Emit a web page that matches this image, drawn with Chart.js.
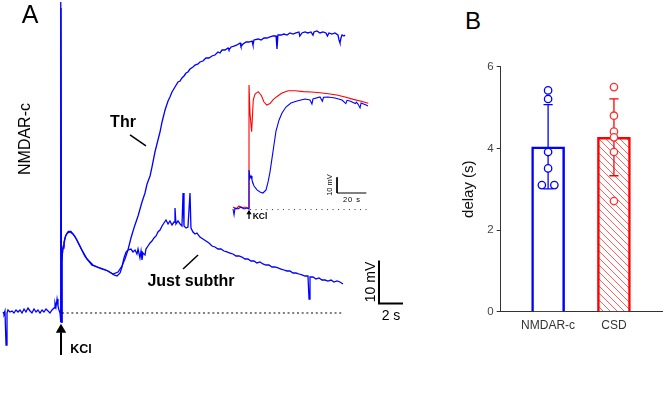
<!DOCTYPE html>
<html><head><meta charset="utf-8">
<script src="https://cdn.jsdelivr.net/npm/chart.js@4.4.1/dist/chart.umd.min.js"></script>
<style>
html,body{margin:0;padding:0;background:#fff;}
#wrap{position:relative;width:669px;height:401px;overflow:hidden;background:#fff;font-family:"Liberation Sans",Arial,sans-serif;}
canvas{position:absolute;}
.t{position:absolute;white-space:nowrap;line-height:1;transform:translate(-50%,-50%);color:#000;}
.r{transform:translate(-50%,-50%) rotate(-90deg);}
.b{font-weight:bold;}
</style></head><body>
<div id="wrap">
<canvas id="cMain" width="430" height="401" style="left:0;top:0"></canvas>
<canvas id="cInset" width="146" height="145" style="left:228px;top:80px"></canvas>
<canvas id="cBar" width="229" height="300" style="left:440px;top:50px"></canvas>
<div class="t" style="left:30px;top:14px;font-size:25px">A</div>
<div class="t" style="left:473px;top:21px;font-size:24px">B</div>
<div class="t r" style="left:25px;top:139px;font-size:16px">NMDAR-c</div>
<div class="t b" style="left:123px;top:122px;font-size:16px">Thr</div>
<div class="t b" style="left:191px;top:281px;font-size:16px">Just subthr</div>
<div class="t b" style="left:81px;top:349px;font-size:12.5px">KCl</div>
<div class="t r" style="left:370px;top:282px;font-size:14px">10 mV</div>
<div class="t" style="left:391px;top:315px;font-size:14px">2 s</div>
<div class="t r" style="left:330px;top:185px;font-size:7.5px">10 mV</div>
<div class="t" style="left:352px;top:200px;font-size:7.5px;letter-spacing:1px">20 s</div>
<div class="t b" style="left:260px;top:216px;font-size:8.5px">KCl</div>
</div>
<script>
// ---------- Panel A: main traces (time in s, relative to KCl; voltage in mV) ----------
const thrTrace = [
[-4.83,0.23],[-4.75,-0.23],[-4.67,0.47],[-4.58,-7.44],[-4.5,0],[-4.42,0.7],[-4.25,0.23],[-4.08,0.47],[-3.92,0],[-3.75,0.7],[-3.58,0.23],[-3.42,0.7],[-3.25,0],[-3.08,0.93],[-2.92,0.23],[-2.75,1.16],[-2.58,0.47],[-2.42,0],[-2.25,0.93],[-2.08,0.23],[-1.92,0.7],[-1.75,0],[-1.58,0.7],[-1.42,0.23],[-1.25,0.93],[-1.08,0.47],[-0.92,0],[-0.75,0.7],[-0.58,1.16],[-0.5,2.33],[-0.42,1.4],[-0.33,3.26],[-0.25,1.63],[-0.17,0.7],[-0.08,0],
[-0.04,-2.09],[0,72.3],[0.04,-2.09],
[0.08,11.86],[0.13,14.65],[0.19,15.58],[0.25,16.51],[0.33,17.44],[0.46,18.37],[0.61,18.95],[0.83,18.95],[1.17,17.79],[1.58,15.47],[2.0,13.14],[2.56,11.16],[3.39,10.23],[3.92,9.77],[4.33,9.07],[4.75,9.53],[5.08,10.93],[5.33,12.56],[5.58,14.65],[5.83,17.44],[6.08,19.77],[6.42,22.56],[6.75,25.81],[7.0,27.91],[7.17,30.0],[7.42,31.86],[7.58,33.95],[7.83,37.44],[8.08,40.23],[8.25,42.09],[8.42,44.42],[8.67,47.21],[8.92,49.3],[9.08,50.23],[9.25,51.4],[9.5,52.56],[9.75,53.72],[9.92,53.95],[10.08,54.65],[10.25,55.12],[10.42,55.81],[10.58,56.05],[10.75,56.74],[11.0,57.21],[11.17,57.67],[11.42,57.91],[11.58,58.37],[11.83,58.6],[12.08,59.3],[12.33,59.3],[12.58,59.77],[12.83,60.0],[13.08,60.7],[13.25,60.47],[13.42,61.16],[13.67,61.16],[13.92,61.63],[14.0,61.2],[14.17,61.86],[14.42,62.09],[14.67,62.33],[14.92,62.79],[15.0,62.0],[15.17,62.56],[15.42,63.02],[15.67,63.02],[15.92,63.26],[16.0,62.3],[16.08,63.49],[16.42,63.72],[16.67,63.49],[16.92,63.95],[17.17,63.95],[17.42,64.19],[17.67,64.42],[17.92,64.42],[18.0,61.4],[18.08,64.65],[18.33,64.65],[18.58,64.88],[18.83,64.65],[19.08,65.12],[19.33,64.88],[19.58,65.12],[19.83,65.35],[19.9,64.4],[20.08,65.12],[20.33,65.35],[20.58,65.12],[20.83,65.35],[21.0,64.6],[21.08,65.35],[21.33,65.58],[21.58,65.12],[21.83,65.35],[22.08,65.12],[22.2,64.4],[22.33,65.12],[22.58,64.88],[22.83,65.12],[23.08,64.65],[23.17,63.49],[23.25,62.79],[23.33,63.95],[23.42,64.65],[23.58,64.42],[23.67,64.65]
];
const subthrTrace = [
[-0.04,-2.09],[0,70.93],[0.04,-2.09],[0.08,12.79],[0.17,15.12],[0.25,16.05],[0.38,17.91],[0.54,18.6],[0.75,18.84],[1.0,18.37],[1.33,16.98],[1.75,14.65],[2.17,12.56],[2.67,11.16],[3.25,10.47],[3.75,10.0],[4.17,9.3],[4.42,8.84],[4.67,8.6],[4.92,9.3],[5.08,10.7],[5.25,12.79],[5.42,14.19],[5.58,14.65],[5.83,14.88],[6.0,14.19],[6.17,14.65],[6.33,13.72],[6.42,14.88],[6.58,12.79],[6.67,14.42],[6.75,12.33],[6.83,13.95],[7.0,13.49],[7.08,14.88],[7.25,15.58],[7.42,16.28],[7.58,16.74],[7.75,17.44],[7.92,17.91],[8.08,18.84],[8.25,19.3],[8.42,20.23],[8.58,20.93],[8.75,21.63],[8.92,20.7],[9.08,21.4],[9.25,20.47],[9.42,21.16],[9.5,24.42],[9.58,20.7],[9.75,21.4],[9.92,20.7],[10.08,20.23],[10.17,27.91],[10.25,20.23],[10.42,19.77],[10.58,20.0],[10.75,27.91],[10.83,19.77],[11.0,18.84],[11.17,18.37],[11.33,18.6],[11.58,17.67],[11.83,17.21],[12.08,16.74],[12.33,16.28],[12.58,15.58],[12.83,15.35],[13.08,14.88],[13.33,14.88],[13.58,14.42],[13.83,14.19],[14.08,13.95],[14.33,13.72],[14.58,13.26],[14.83,13.26],[15.08,13.02],[15.33,12.56],[15.58,12.56],[15.83,12.09],[16.08,12.09],[16.33,11.63],[16.58,11.86],[16.83,11.4],[17.08,11.16],[17.33,11.16],[17.58,10.7],[17.83,10.7],[18.08,10.47],[18.33,10.23],[18.58,10.0],[18.83,9.77],[19.08,9.77],[19.33,9.3],[19.58,9.3],[19.83,9.07],[20.08,8.84],[20.33,8.6],[20.58,8.6],[20.67,3.26],[20.75,8.37],[21.0,8.37],[21.25,7.91],[21.5,8.14],[21.75,7.67],[22.0,7.67],[22.25,7.44],[22.5,7.67],[22.75,7.21],[23.0,7.44],[23.25,7.21],[23.5,6.74]
];
const mainBaselineSpan = [0.08, 23.5];      // s, dotted 0 mV line
const mainScaleBar = {t: 26.5, v: 2.2, dt: 2, dv: 10}; // 2 s, 10 mV
const thrPointer = [[5.75,41.4],[7.08,38.84]];
const subthrPointer = [[10.17,10.23],[11.42,13.49]];
const kclArrow = [-9.77,-4.5,-3.9];        // mV: tail, shaft end, head centre

// ---------- Panel A inset (s, mV) ----------
const insetNmdar = [
[-10.9,-0.64],[-10.2,-4.46],[-9.54,0],[-7.5,-0.64],[-5.45,0.64],[-3.41,-0.64],[-1.36,0],[0,-0.64],[0,24.2],[0.68,19.1],[1.36,20.4],[2.04,17.8],[3.41,14.0],[5.45,11.5],[7.5,10.2],[9.54,9.55],[11.6,11.5],[13.0,16.6],[14.3,22.9],[15.7,31.8],[17.0,40.1],[18.4,49.0],[20.5,56.1],[22.5,60.5],[25.2,64.3],[28.6,66.9],[32.7,68.2],[38.2,69.4],[41.6,68.8],[42.9,66.2],[43.6,69.4],[48.4,70.7],[50.0,68.0],[50.8,70.5],[53.9,70.7],[58.6,70.1],[63.4,68.8],[66.0,66.5],[66.8,68.6],[68.8,68.2],[72.5,66.5],[73.2,67.4],[74.3,66.2],[75.7,63.7],[76.4,66.9],[79.8,65.6],[81.1,65.0]
];
const insetCsd = [
[-10.9,0.64],[-8.86,-0.64],[-6.82,1.27],[-4.77,0],[-2.73,0.64],[-0.68,0],[0,0],[0,78.3],[0.7,60],[1.8,48.6],[2.9,68.8],[4.1,72.6],[6.3,74.1],[8.5,71.5],[10.2,67.5],[12.1,65.6],[14.3,66.5],[16.5,69.0],[18.9,70.9],[22.5,73.2],[26.8,74.7],[31.5,74.7],[37.0,74.1],[42.5,73.9],[48.4,73.4],[54.0,72.8],[59.8,72.0],[65.5,70.7],[71.1,69.2],[76.5,68.0],[81.3,66.7]
];
const insetBaselineSpan = [0.7, 80.4];
const insetScaleBar = {t: 60, v: 9.55, dt: 20, dv: 10}; // 20 s, 10 mV
const insetKcl = [-7.0,-2.2,-3.0];

// ---------- Panel B: delay (s) ----------
const categories = ['NMDAR-c','CSD'];
const means = [4.04, 4.27];
const sds = [1.03, 0.94];
const nmdarPts = [5.42,5.21,3.91,3.51,3.10,3.10];
const csdPts = [5.50,4.80,4.41,4.27,3.91,2.71];
const yTicks = [0,2,4,6];

// ---------- helpers ----------
const BLUE = '#0000ff', RED = '#ff0000';
const xy = arr => arr.map(p => ({x:p[0], y:p[1]}));
const base = {responsive:false, animation:false, events:[],
  plugins:{legend:{display:false}, tooltip:{enabled:false}},
  elements:{point:{radius:0}, line:{tension:0}}, layout:{padding:0, autoPadding:false}};
function lineDs(data, color, width, extra){
  return Object.assign({type:'line', data, borderColor:color, borderWidth:width, pointRadius:0, fill:false, spanGaps:false, clip:8}, extra||{});
}

// ---------- main chart ----------
new Chart(document.getElementById('cMain'), {
  type:'line',
  data:{datasets:[
    lineDs([{x:mainBaselineSpan[0],y:0},{x:mainBaselineSpan[1],y:0}], '#000', 1, {borderDash:[2,2.7]}),
    lineDs(xy(subthrTrace), BLUE, 1.3),
    lineDs(xy(thrTrace), BLUE, 1.3),
    lineDs([{x:mainScaleBar.t,y:mainScaleBar.v+mainScaleBar.dv},{x:mainScaleBar.t,y:mainScaleBar.v},{x:mainScaleBar.t+mainScaleBar.dt,y:mainScaleBar.v}], '#000', 2),
    lineDs(xy(thrPointer), '#000', 1.5),
    lineDs(xy(subthrPointer), '#000', 1.5),
    lineDs([{x:0,y:kclArrow[0]},{x:0,y:kclArrow[1]}], '#000', 2),
    lineDs([{x:0,y:kclArrow[2]}], '#000', 0, {showLine:false, pointRadius:6, pointStyle:'triangle', pointBackgroundColor:'#000', pointBorderWidth:0})
  ]},
  options:Object.assign({}, base, {scales:{
    x:{type:'linear', display:false, min:-5.0833, max:30.75},
    y:{type:'linear', display:false, min:-20.465, max:72.79}}})
});

// ---------- inset chart ----------
new Chart(document.getElementById('cInset'), {
  type:'line',
  data:{datasets:[
    lineDs([{x:insetBaselineSpan[0],y:-1},{x:insetBaselineSpan[1],y:-1}], '#333', 1, {borderDash:[1,4.5]}),
    lineDs(xy(insetNmdar), BLUE, 1.1),
    lineDs(xy(insetCsd), RED, 1.1),
    lineDs([{x:insetScaleBar.t,y:insetScaleBar.v+insetScaleBar.dv},{x:insetScaleBar.t,y:insetScaleBar.v},{x:insetScaleBar.t+insetScaleBar.dt,y:insetScaleBar.v}], '#000', 1),
    lineDs([{x:0,y:insetKcl[0]},{x:0,y:insetKcl[1]}], '#000', 1.3),
    lineDs([{x:0,y:insetKcl[2]}], '#000', 0, {showLine:false, pointRadius:3, pointStyle:'triangle', pointBackgroundColor:'#000', pointBorderWidth:0})
  ]},
  options:Object.assign({}, base, {scales:{
    x:{type:'linear', display:false, min:-14.32, max:85.21},
    y:{type:'linear', display:false, min:-10.83, max:81.53}}})
});

// ---------- bar chart ----------
const catX = i => 1.44 + 2*i;
const hatch = (() => {
  const c = document.createElement('canvas'); c.width = 7; c.height = 7;
  const g = c.getContext('2d');
  g.fillStyle = '#fff'; g.fillRect(0,0,7,7);
  g.strokeStyle = 'rgba(255,40,40,0.75)'; g.lineWidth = 1;
  g.beginPath(); g.moveTo(-1,-1); g.lineTo(8,8); g.moveTo(-1,6); g.lineTo(1,8); g.moveTo(6,-1); g.lineTo(8,1); g.stroke();
  return g.createPattern(c, 'repeat');
})();
function errData(i){
  const cx = catX(i), c = 0.14, lo = means[i]-sds[i], hi = means[i]+sds[i];
  return [{x:cx,y:lo},{x:cx,y:hi},{x:cx,y:null},{x:cx-c,y:hi},{x:cx+c,y:hi},{x:cx,y:null},{x:cx-c,y:lo},{x:cx+c,y:lo}];
}
function dotData(i, pts){
  const cx = catX(i), seen = {};
  return pts.map(v => {
    const n = pts.filter(p => p === v).length;
    if (n === 1) return {x:cx, y:v};
    seen[v] = (seen[v]||0) + 1;
    return {x: cx + (seen[v] === 1 ? -0.19 : 0.19), y:v};
  });
}
new Chart(document.getElementById('cBar'), {
  type:'bar',
  data:{datasets:[
    {type:'bar', order:3, data: means.map((m,i)=>({x:catX(i), y:m})), backgroundColor:['#ffffff', hatch], borderColor:[BLUE, RED], borderWidth:2.5, barThickness:33, borderSkipped:'start'},
    lineDs(errData(0), BLUE, 1.3, {order:2}),
    lineDs(errData(1), RED, 1.3, {order:2}),
    {type:'scatter', order:1, data:dotData(0, nmdarPts), pointRadius:3.7, pointBackgroundColor:'#fff', pointBorderColor:BLUE, pointBorderWidth:1.3, clip:8},
    {type:'scatter', order:1, data:dotData(1, csdPts), pointRadius:3.7, pointBackgroundColor:'#fff', pointBorderColor:'#ff3030', pointBorderWidth:1.3, clip:8}
  ]},
  options:Object.assign({}, base, {
    layout:{padding:{top:16.7, right:7, left:0, bottom:0}, autoPadding:false},
    scales:{
      x:{type:'linear', min:0, max:4.9, offset:false,
         grid:{display:false, drawTicks:false, offset:false},
         border:{display:true, color:'#333', width:1},
         afterBuildTicks: s => { s.ticks = categories.map((c,i)=>({value:catX(i)})); },
         afterFit: s => { s.height = 38.3; },
         ticks:{autoSkip:false, maxRotation:0, padding:7, color:'#333', font:{family:'Liberation Sans', size:12},
                callback:(v,i)=>categories[i]}},
      y:{type:'linear', min:0, max:6,
         grid:{display:true, drawOnChartArea:false, drawTicks:true, tickLength:4, color:'#333'},
         border:{display:true, color:'#333', width:1},
         afterBuildTicks: s => { s.ticks = yTicks.map(v=>({value:v})); },
         afterFit: s => { s.width = 60.7; },
         ticks:{padding:3, color:'#444', font:{family:'Liberation Sans', size:11.5}},
         title:{display:true, text:'delay (s)', color:'#111', font:{family:'Liberation Sans', size:15}, padding:{top:20, bottom:0}}}
    }})
});
</script>
</body></html>
